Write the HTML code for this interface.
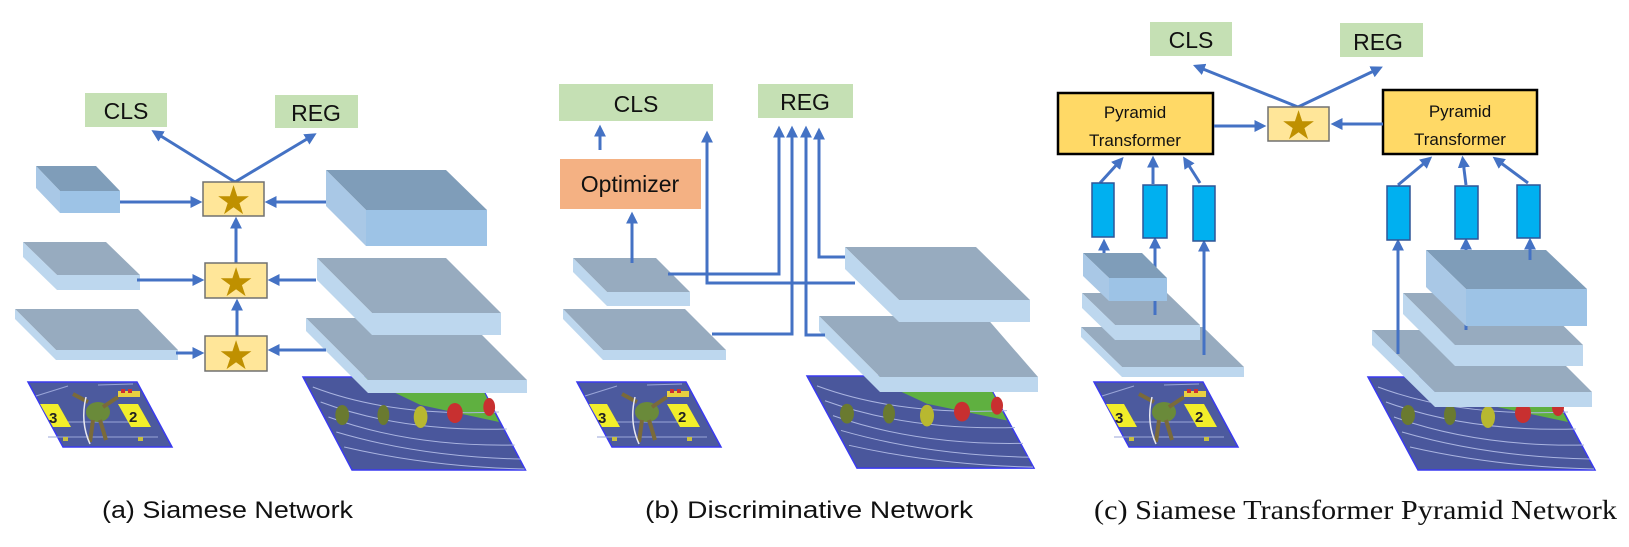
<!DOCTYPE html>
<html><head><meta charset="utf-8"><style>
html,body{margin:0;padding:0;background:#fff;}
svg{display:block;}
text{font-family:"Liberation Sans",sans-serif;}
text.star{font-family:"DejaVu Sans",sans-serif;}
text.serif{font-family:"Liberation Serif",serif;}
</style></head><body>
<svg width="1629" height="547" viewBox="0 0 1629 547" xmlns="http://www.w3.org/2000/svg">
<defs>
<marker id="ah" markerWidth="4" markerHeight="4" refX="2.2" refY="2" orient="auto" markerUnits="strokeWidth">
<path d="M0,0 L4,2 L0,4 Z" fill="#4472c4"/></marker>
<g id="imgS">
<polygon points="0,0 109,0 144,65 35,65" fill="#4c5a9e" stroke="#3a3af0" stroke-width="1.5"/>
<path d="M8,14 L40,4 M70,3 L105,2 M20,55 L130,55 M30,40 L120,40" stroke="#9aa5d8" stroke-width="1" fill="none"/>
<polygon points="12,22 30,22 43,45 25,45" fill="#f2ee2a"/>
<text x="21" y="41" font-size="15" font-weight="bold" fill="#222">3</text>
<polygon points="90,22 110,22 123,45 103,45" fill="#f2ee2a"/>
<text x="101" y="40" font-size="15" font-weight="bold" fill="#222">2</text>
<rect x="90" y="9" width="22" height="6" fill="#e8d040"/>
<rect x="93" y="7" width="4" height="4" fill="#d03030"/><rect x="100" y="7" width="4" height="4" fill="#d03030"/>
<ellipse cx="70" cy="30" rx="12" ry="10" fill="#6a8a3a"/>
<path d="M60,20 L45,12 M75,25 L90,15 M65,38 L62,60 M72,38 L78,58" stroke="#7a6a3a" stroke-width="4"/>
<path d="M58,15 Q52,40 62,62" stroke="#e8e8f0" stroke-width="1.5" fill="none"/>
<rect x="35" y="55" width="5" height="4" fill="#c8c040"/><rect x="110" y="55" width="5" height="4" fill="#c8c040"/>
</g>
<g id="imgB">
<polygon points="0,0 177,0 227,93 50,93" fill="#4a579c" stroke="#3a3af0" stroke-width="1.5"/>
<polygon points="60,0 177,0 200,45 120,28" fill="#5fb040"/>
<path d="M10,10 Q90,40 200,35 M18,25 Q100,55 208,52 M26,40 Q110,70 216,68 M34,55 Q120,80 222,82 M42,70 Q130,90 226,92" stroke="#aab4e0" stroke-width="1" fill="none"/>
<g fill="#6a7a30"><ellipse cx="40" cy="38" rx="7" ry="10"/><ellipse cx="82" cy="38" rx="6" ry="10"/></g>
<ellipse cx="120" cy="40" rx="7" ry="11" fill="#b8b830"/>
<ellipse cx="155" cy="36" rx="8" ry="10" fill="#c83030"/>
<ellipse cx="190" cy="30" rx="6" ry="9" fill="#c83030"/>
</g>
</defs>

<!-- ============ Panel A ============ -->
<rect x="85" y="93" width="82" height="34" fill="#c5e0b4"/>
<text x="126" y="119" font-size="23" text-anchor="middle" fill="#111">CLS</text>
<rect x="275" y="95" width="83" height="33" fill="#c5e0b4"/>
<text x="316" y="121" font-size="23" text-anchor="middle" fill="#111">REG</text>

<use href="#imgS" x="28" y="382"/>
<g transform="translate(303,377) scale(0.98,1)"><use href="#imgB"/></g>

<polygon points="36,166 96,166 120,191 60,191" fill="#7f9db9"/>
<polygon points="36,166 60,191 60,213 36,188" fill="#a9c8e6"/>
<rect x="60" y="191" width="60" height="22" fill="#9dc3e6"/>
<polygon points="23,242 106,242 140,275 57,275" fill="#97abbf"/>
<polygon points="23,242 57,275 57,290 23,257" fill="#bdd7ee"/>
<rect x="57" y="275" width="83" height="15" fill="#bdd7ee"/>
<polygon points="15,309 138,309 178,350 56,350" fill="#97abbf"/>
<polygon points="15,309 56,350 56,360 15,319" fill="#bdd7ee"/>
<rect x="56" y="350" width="122" height="10" fill="#bdd7ee"/>
<polygon points="306,318 465,318 527,380 368,380" fill="#97abbf"/>
<polygon points="306,318 368,380 368,393 306,331" fill="#bdd7ee"/>
<rect x="368" y="380" width="159" height="13" fill="#bdd7ee"/>
<polygon points="317,258 446,258 501,313 372,313" fill="#97abbf"/>
<polygon points="317,258 372,313 372,335 317,280" fill="#bdd7ee"/>
<rect x="372" y="313" width="129" height="22" fill="#bdd7ee"/>
<polygon points="326,170 446,170 487,210 366,210" fill="#7f9db9"/>
<polygon points="326,170 366,210 366,246 326,206" fill="#a9c8e6"/>
<rect x="366" y="210" width="121" height="36" fill="#9dc3e6"/>

<g stroke="#4472c4" stroke-width="3" fill="none" marker-end="url(#ah)">
<line x1="120" y1="202" x2="197" y2="202"/>
<line x1="326" y1="202" x2="270" y2="202"/>
<line x1="137" y1="280" x2="199" y2="280"/>
<line x1="316" y1="280" x2="273" y2="280"/>
<line x1="176" y1="353" x2="199" y2="353"/>
<line x1="326" y1="350" x2="273" y2="350"/>
<line x1="237" y1="336" x2="237" y2="304"/>
<line x1="236" y1="263" x2="236" y2="222"/>
<line x1="235" y1="182" x2="156" y2="133"/>
<line x1="235" y1="182" x2="312" y2="136"/>
</g>
<g fill="#ffe699" stroke="#707070" stroke-width="1.5">
<rect x="203" y="182" width="61" height="34"/>
<rect x="205" y="263" width="62" height="35"/>
<rect x="205" y="336" width="62" height="35"/>
</g>
<g fill="#bf9000">
<text class="star" x="233.5" y="214" font-size="40" text-anchor="middle">★</text>
<text class="star" x="236" y="296" font-size="40" text-anchor="middle">★</text>
<text class="star" x="236" y="369" font-size="40" text-anchor="middle">★</text>
</g>

<!-- ============ Panel B ============ -->
<rect x="559" y="84" width="154" height="37" fill="#c5e0b4"/>
<text x="636" y="112" font-size="23" text-anchor="middle" fill="#111">CLS</text>
<rect x="758" y="84" width="95" height="34" fill="#c5e0b4"/>
<text x="805" y="110" font-size="23" text-anchor="middle" fill="#111">REG</text>
<rect x="560" y="159" width="141" height="50" fill="#f4b183"/>
<text x="630" y="192" font-size="23" text-anchor="middle" fill="#111">Optimizer</text>

<use href="#imgS" x="577" y="382"/>
<g transform="translate(807,376) scale(1.0,0.99)"><use href="#imgB"/></g>

<polygon points="563,309 685,309 726,350 603,350" fill="#97abbf"/>
<polygon points="563,309 603,350 603,360 563,319" fill="#bdd7ee"/>
<rect x="603" y="350" width="123" height="10" fill="#bdd7ee"/>
<polygon points="573,258 656,258 690,292 607,292" fill="#97abbf"/>
<polygon points="573,258 607,292 607,306 573,272" fill="#bdd7ee"/>
<rect x="607" y="292" width="83" height="14" fill="#bdd7ee"/>

<polygon points="819,316 985,316 1038,377 880,377" fill="#97abbf"/>
<polygon points="819,316 880,377 880,392 819,331" fill="#bdd7ee"/>
<rect x="880" y="377" width="158" height="15" fill="#bdd7ee"/>
<polygon points="845,247 976,247 1030,300 899,300" fill="#97abbf"/>
<polygon points="845,247 899,300 899,322 845,269" fill="#bdd7ee"/>
<rect x="899" y="300" width="131" height="22" fill="#bdd7ee"/>

<g stroke="#4472c4" stroke-width="3" fill="none" marker-end="url(#ah)">
<line x1="600" y1="150" x2="600" y2="130"/>
<line x1="632" y1="263" x2="632" y2="217"/>
<polyline points="668,274 779,274 779,131"/>
<polyline points="855,283 707,283 707,136"/>
<polyline points="712,334 792,334 792,131"/>
<polyline points="825,335 806,335 806,131"/>
<polyline points="845,257 819,257 819,133"/>
</g>

<!-- ============ Panel C ============ -->
<rect x="1150" y="22" width="82" height="34" fill="#c5e0b4"/>
<text x="1191" y="48" font-size="23" text-anchor="middle" fill="#111">CLS</text>
<rect x="1340" y="23" width="83" height="34" fill="#c5e0b4"/>
<text x="1378" y="50" font-size="23" text-anchor="middle" fill="#111">REG</text>

<rect x="1058" y="93" width="155" height="61" fill="#ffd966" stroke="#000" stroke-width="2.5"/>
<text x="1135" y="118" font-size="17" text-anchor="middle" fill="#111">Pyramid</text>
<text x="1135" y="146" font-size="17" text-anchor="middle" fill="#111">Transformer</text>
<rect x="1383" y="90" width="154" height="64" fill="#ffd966" stroke="#000" stroke-width="2.5"/>
<text x="1460" y="117" font-size="17" text-anchor="middle" fill="#111">Pyramid</text>
<text x="1460" y="145" font-size="17" text-anchor="middle" fill="#111">Transformer</text>

<use href="#imgS" x="1094" y="382"/>
<g transform="translate(1368,377)"><use href="#imgB"/></g>

<polygon points="1081,327 1203,327 1244,367 1122,367" fill="#97abbf"/>
<polygon points="1081,327 1122,367 1122,377 1081,337" fill="#bdd7ee"/>
<rect x="1122" y="367" width="122" height="10" fill="#bdd7ee"/>
<polygon points="1082,293 1167,293 1200,325 1115,325" fill="#97abbf"/>
<polygon points="1082,293 1115,325 1115,340 1082,308" fill="#bdd7ee"/>
<rect x="1115" y="325" width="85" height="15" fill="#bdd7ee"/>
<g stroke="#4472c4" stroke-width="3" fill="none" marker-end="url(#ah)">
<line x1="1155" y1="315" x2="1155" y2="242"/>
<line x1="1204" y1="355" x2="1204" y2="245"/>
</g>
<polygon points="1083,253 1142,253 1167,278 1109,278" fill="#7f9db9"/>
<polygon points="1083,253 1109,278 1109,301 1083,276" fill="#a9c8e6"/>
<rect x="1109" y="278" width="58" height="23" fill="#9dc3e6"/>

<polygon points="1372,330 1530,330 1592,392 1435,392" fill="#97abbf"/>
<polygon points="1372,330 1435,392 1435,407 1372,345" fill="#bdd7ee"/>
<rect x="1435" y="392" width="157" height="15" fill="#bdd7ee"/>
<polygon points="1403,293 1530,293 1583,345 1455,345" fill="#97abbf"/>
<polygon points="1403,293 1455,345 1455,366 1403,314" fill="#bdd7ee"/>
<rect x="1455" y="345" width="128" height="21" fill="#bdd7ee"/>
<line x1="1466" y1="330" x2="1466" y2="290" stroke="#4472c4" stroke-width="3"/>
<polygon points="1426,250 1546,250 1587,289 1466,289" fill="#7f9db9"/>
<polygon points="1426,250 1466,289 1466,326 1426,287" fill="#a9c8e6"/>
<rect x="1466" y="289" width="121" height="37" fill="#9dc3e6"/>

<g stroke="#4472c4" stroke-width="3" fill="none" marker-end="url(#ah)">
<line x1="1104" y1="253" x2="1104" y2="244"/>
<line x1="1398" y1="354" x2="1398" y2="244"/>
<line x1="1466" y1="250" x2="1466" y2="243"/>
<line x1="1530" y1="260" x2="1530" y2="243"/>
<line x1="1100" y1="183" x2="1120" y2="161"/>
<line x1="1153" y1="184" x2="1153" y2="161"/>
<line x1="1200" y1="183" x2="1186" y2="161"/>
<line x1="1398" y1="185" x2="1428" y2="160"/>
<line x1="1466" y1="185" x2="1463" y2="161"/>
<line x1="1528" y1="183" x2="1497" y2="160"/>
<line x1="1214" y1="126" x2="1261" y2="126"/>
<line x1="1383" y1="124" x2="1336" y2="124"/>
<line x1="1298" y1="107" x2="1198" y2="67"/>
<line x1="1298" y1="107" x2="1378" y2="69"/>
</g>
<g fill="#00b0f0" stroke="#2f5597" stroke-width="1.5">
<rect x="1092" y="183" width="22" height="54"/>
<rect x="1143" y="185" width="24" height="53"/>
<rect x="1193" y="186" width="22" height="55"/>
<rect x="1387" y="186" width="23" height="54"/>
<rect x="1455" y="186" width="23" height="53"/>
<rect x="1517" y="185" width="23" height="53"/>
</g>
<rect x="1268" y="107" width="61" height="34" fill="#ffe699" stroke="#707070" stroke-width="1.5"/>
<text class="star" x="1298.5" y="139" font-size="40" text-anchor="middle" fill="#bf9000">★</text>

<!-- captions -->
<text x="102" y="518" font-size="24" fill="#111" textLength="251" lengthAdjust="spacingAndGlyphs">(a) Siamese Network</text>
<text x="645" y="518" font-size="24" fill="#111" textLength="328" lengthAdjust="spacingAndGlyphs">(b) Discriminative Network</text>
<text class="serif" x="1094" y="519" font-size="27" fill="#111" style="font-family:'Liberation Serif',serif" textLength="523" lengthAdjust="spacingAndGlyphs">(c) Siamese Transformer Pyramid Network</text>
</svg>
</body></html>
